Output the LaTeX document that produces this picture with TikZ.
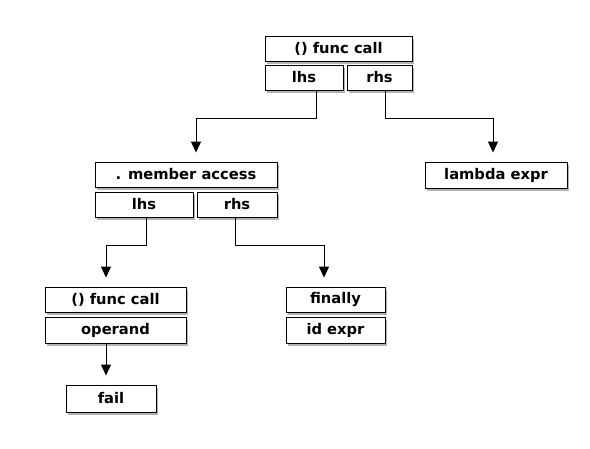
\documentclass[tikz,border=0pt]{standalone}
\usepackage{fontspec}
\setmainfont{DejaVu Sans}
\usetikzlibrary{arrows.meta,shadows}
\begin{document}
\begin{tikzpicture}[x=1pt,y=-1pt,
  box/.style={draw=black, line width=0.9pt, fill=white, inner sep=0pt,
    font=\fontsize{14.7}{17}\selectfont\bfseries,
    drop shadow={shadow xshift=1.8pt, shadow yshift=-2.6pt, fill=black!55, opacity=0.55}},
  conn/.style={draw=black, line width=0.9pt, -{Triangle[width=10pt,length=11pt]}, shorten >=9pt}]
\useasboundingbox (0,0) rectangle (590,448);
\newcommand{\bx}[6]{\node[box, minimum width={#4-#2}, minimum height={#5-#3}] (#1) at ({(#2+#4)/2},{(#3+#5)/2}) {#6};}
\bx{fc1}{265}{36}{412}{61}{() func call}
\bx{lhs1}{265}{65}{343}{90}{lhs}
\bx{rhs1}{347}{65}{412}{90}{rhs}
\bx{lam}{425}{162}{567}{188}{lambda expr}
\bx{ma}{95}{162}{277}{187}{. member access}
\bx{lhs2}{95}{192}{193}{217}{lhs}
\bx{rhs2}{197}{192}{277}{217}{rhs}
\bx{fc2}{45}{287}{186}{312}{() func call}
\bx{op}{45}{317}{186}{343}{operand}
\bx{fail}{66}{385}{156}{412}{fail}
\bx{fin}{286}{287}{385}{312}{finally}
\bx{id}{286}{317}{385}{343}{id expr}
\coordinate (a1) at (316,118);
\coordinate (a2) at (196,118);
\coordinate (b1) at (385,118);
\coordinate (b2) at (493,118);
\coordinate (c1) at (146,245);
\coordinate (c2) at (106,245);
\coordinate (d1) at (235,245);
\coordinate (d2) at (324,245);
\draw[conn] (lhs1.south -| a1) -- (a1) -- (a2) -- (a2 |- ma.north);
\draw[conn] (rhs1.south -| b1) -- (b1) -- (b2) -- (b2 |- lam.north);
\draw[conn] (lhs2.south -| c1) -- (c1) -- (c2) -- (c2 |- fc2.north);
\draw[conn] (rhs2.south -| d1) -- (d1) -- (d2) -- (d2 |- fin.north);
\draw[conn] (op.south -| c2) -- (c2 |- fail.north);
\end{tikzpicture}
\end{document}
